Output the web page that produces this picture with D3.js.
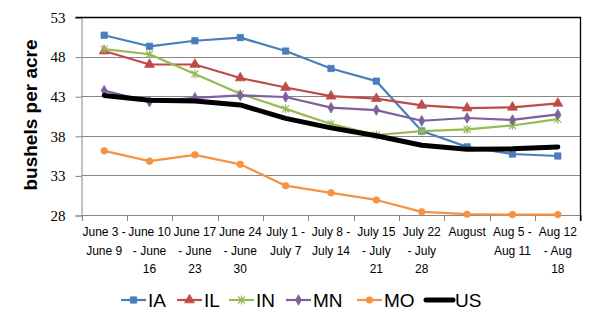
<!DOCTYPE html>
<html lang="en">
<head>
  <meta charset="UTF-8">
  <title>Yield estimates</title>
  <script src="https://cdn.jsdelivr.net/npm/d3@7"></script>
  <style>
    body { margin: 0; background: #fff; }
    svg { display: block; }
    .xlab { font-family: "Liberation Sans", Arial, sans-serif; font-size: 12px; fill: #000; text-anchor: middle; }
    .ylab text { font-family: "Liberation Serif", serif; font-size: 15px; fill: #000; }
  </style>
</head>
<body>
  <svg width="595" height="327"></svg>
  <script>
    // week labels as they wrap in the original
    var categories = [
      'June 3 -|June 9', 'June 10|- June|16', 'June 17|- June|23', 'June 24|- June|30',
      'July 1 -|July 7', 'July 8 -|July 14', 'July 15|- July|21', 'July 22|- July|28',
      'August', 'Aug 5 -|Aug 11', 'Aug 12|- Aug|18'
    ];
    var yTicks = [28, 33, 38, 43, 48, 53];

    var IA = [50.7, 49.3, 50.0, 50.4, 48.7, 46.5, 44.9, 38.6, 36.6, 35.7, 35.45];
    var IL = [48.7, 47.0, 47.0, 45.3, 44.1, 43.0, 42.7, 41.85, 41.5, 41.6, 42.1];
    var IN = [48.95, 48.3, 45.8, 43.3, 41.4, 39.5, 38.1, 38.6, 38.8, 39.3, 40.1];
    var MN = [43.7, 42.3, 42.8, 43.1, 42.9, 41.55, 41.25, 39.9, 40.25, 40.0, 40.7];
    var MO = [36.1, 34.8, 35.6, 34.4, 31.7, 30.8, 29.9, 28.4, 28.1, 28.05, 28.05];
    var US = [43.1, 42.5, 42.4, 41.9, 40.2, 39.0, 38.0, 36.8, 36.3, 36.35, 36.6];

    var series = [
      {name: 'IA', values: IA, color: '#4A7EBB', marker: 'square'},
      {name: 'IL', values: IL, color: '#BE4B48', marker: 'triangle'},
      {name: 'IN', values: IN, color: '#98B954', marker: 'star'},
      {name: 'MN', values: MN, color: '#7D60A0', marker: 'diamond'},
      {name: 'MO', values: MO, color: '#F69240', marker: 'circle'},
      {name: 'US', values: US, color: '#000000', marker: 'none'}
    ];

    var svg = d3.select('svg');
    var plotL = 81.5, plotR = 580.5, plotT = 17, plotB = 215;

    var x = d3.scaleBand().domain(d3.range(categories.length)).range([plotL, plotR]);
    var y = d3.scaleLinear().domain([28, 53]).range([plotB, plotT]);

    // gridlines
    svg.append('g').selectAll('line')
      .data(yTicks.slice(1, -1))
      .enter().append('line')
      .attr('x1', plotL).attr('x2', plotR)
      .attr('y1', function(d) { return Math.round(y(d)) + 0.5; })
      .attr('y2', function(d) { return Math.round(y(d)) + 0.5; })
      .attr('stroke', '#868686').attr('stroke-width', 1);

    // y axis
    var yAxis = svg.append('g')
      .attr('class', 'ylab')
      .attr('transform', 'translate(' + plotL + ',0.5)')
      .call(d3.axisLeft(y).tickValues(yTicks).tickSize(6).tickPadding(10).tickFormat(d3.format('d')));
    yAxis.select('.domain').attr('stroke', '#868686');
    yAxis.selectAll('.tick line').attr('stroke', '#868686');

    // bottom axis with ticks between categories
    svg.append('line')
      .attr('x1', plotL).attr('x2', plotR)
      .attr('y1', plotB + 0.5).attr('y2', plotB + 0.5)
      .attr('stroke', '#868686');
    svg.append('g').selectAll('line')
      .data(d3.range(categories.length + 1))
      .enter().append('line')
      .attr('x1', function(i) { return Math.round(plotL + i * x.step()) + 0.5; })
      .attr('x2', function(i) { return Math.round(plotL + i * x.step()) + 0.5; })
      .attr('y1', plotB).attr('y2', plotB + 6)
      .attr('stroke', '#868686');

    // top and right border
    svg.append('path')
      .attr('d', 'M' + (plotL - 6) + ',' + (plotT + 0.5) + 'H' + plotR + 'V' + (plotB + 6))
      .attr('fill', 'none').attr('stroke', '#000').attr('stroke-width', 1.3);

    // x labels
    var xl = svg.append('g').selectAll('text')
      .data(categories)
      .enter().append('text')
      .attr('class', 'xlab')
      .attr('transform', function(d, i) {
        return 'translate(' + (x(i) + x.bandwidth() / 2) + ',' + (plotB + 21) + ')';
      });
    xl.selectAll('tspan')
      .data(function(d) { return d.split('|'); })
      .enter().append('tspan')
      .attr('x', 0)
      .attr('y', function(d, i) { return i * 18.5; })
      .text(function(d) { return d; });

    // y title
    svg.append('text')
      .attr('transform', 'translate(37,115) rotate(-90)')
      .attr('text-anchor', 'middle')
      .style('font-family', '"Liberation Sans", Arial, sans-serif')
      .style('font-size', '19px')
      .style('font-weight', 'bold')
      .text('bushels per acre');

    function marker(sel, s) {
      if (s.marker === 'none') return;
      var path;
      if (s.marker === 'square') path = d3.symbol(d3.symbolSquare, 40)();
      else if (s.marker === 'triangle') path = d3.symbol(d3.symbolTriangle, 42)();
      else if (s.marker === 'diamond') path = d3.symbol(d3.symbolDiamond, 32)();
      else if (s.marker === 'circle') path = d3.symbol(d3.symbolCircle, 34)();
      else path = 'M-3.5,-3.5L3.5,3.5M-3.5,3.5L3.5,-3.5M0,-4.5L0,4.5';
      sel.append('path')
        .attr('d', path)
        .attr('fill', s.marker === 'star' ? 'none' : s.color)
        .attr('stroke', s.color)
        .attr('stroke-width', s.marker === 'star' ? 1.2 : 0.8);
    }

    var line = d3.line()
      .x(function(d, i) { return x(i) + x.bandwidth() / 2; })
      .y(function(d) { return y(d); });

    series.forEach(function(s) {
      var g = svg.append('g');
      g.append('path')
        .attr('d', line(s.values))
        .attr('fill', 'none')
        .attr('stroke', s.color)
        .attr('stroke-width', s.name === 'US' ? 5 : 2.2)
        .attr('stroke-linejoin', 'round')
        .attr('stroke-linecap', 'round');
      g.selectAll('.pt')
        .data(s.values)
        .enter().append('g')
        .attr('transform', function(d, i) {
          return 'translate(' + (x(i) + x.bandwidth() / 2) + ',' + y(d) + ')';
        })
        .each(function() { marker(d3.select(this), s); });
    });

    // legend
    var legendX = [121, 177, 229, 286, 357, 426];
    var leg = svg.append('g').selectAll('g')
      .data(series)
      .enter().append('g')
      .attr('transform', function(d, i) { return 'translate(' + legendX[i] + ',300)'; });
    leg.append('line')
      .attr('x1', 0).attr('x2', function(d) { return d.name === 'US' ? 27 : 25; })
      .attr('stroke', function(d) { return d.color; })
      .attr('stroke-width', function(d) { return d.name === 'US' ? 5 : 2.2; })
      .attr('stroke-linecap', function(d) { return d.name === 'US' ? 'round' : 'butt'; });
    leg.each(function(s) {
      var m = d3.select(this).append('g').attr('transform', 'translate(12.5,0)');
      marker(m, s);
    });
    leg.append('text')
      .attr('x', function(d) { return d.name === 'US' ? 29 : 27; })
      .attr('y', 7)
      .style('font-family', '"Liberation Sans", Arial, sans-serif')
      .style('font-size', '19px')
      .text(function(d) { return d.name; });
  </script>
</body>
</html>
